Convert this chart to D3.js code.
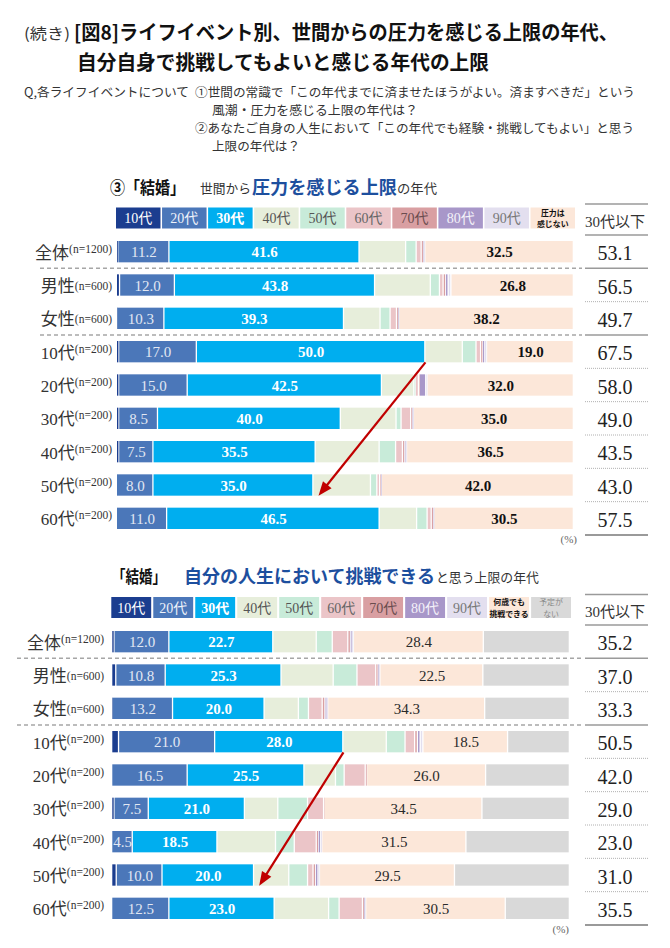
<!DOCTYPE html>
<html><head><meta charset="utf-8">
<script src="https://cdn.jsdelivr.net/npm/d3@7"></script>
<style>body{margin:0;background:#fff}svg{display:block}</style>
</head><body><svg id="c" width="670" height="948"></svg>
<script>
// ---------- DATA ----------
const categories = ["全体","男性","女性","10代","20代","30代","40代","50代","60代"];
const sampleSizes = ["(n=1200)","(n=600)","(n=600)","(n=200)","(n=200)","(n=200)","(n=200)","(n=200)","(n=200)"];

// Chart 1: 世間から圧力を感じる上限の年代 (%)
const press10 = [0.3, 0.7, 0.1, 0.5, 0.5, 0.5, 0.5, 0.0, 0.0];
const press20 = [11.2, 12.0, 10.3, 17.0, 15.0, 8.5, 7.5, 8.0, 11.0];
const press30 = [41.6, 43.8, 39.3, 50.0, 42.5, 40.0, 35.5, 35.0, 46.5];
const press40 = [10.2, 12.2, 8.0, 8.2, 7.1, 12.2, 14.0, 12.6, 8.2];
const press50 = [2.3, 2.0, 2.2, 3.0, 0.3, 1.1, 3.6, 1.4, 2.3];
const press60 = [1.1, 0.8, 1.4, 1.0, 0.7, 2.1, 1.5, 0.6, 0.9];
const press70 = [0.4, 0.5, 0.3, 0.4, 0.2, 0.3, 0.4, 0.2, 0.4];
const press80 = [0.2, 0.6, 0.1, 0.4, 1.4, 0.1, 0.2, 0.1, 0.1];
const press90 = [0.2, 0.6, 0.1, 0.5, 0.3, 0.2, 0.3, 0.1, 0.1];
const pressNone = [32.5, 26.8, 38.2, 19.0, 32.0, 35.0, 36.5, 42.0, 30.5];
const pressUnder30 = [53.1, 56.5, 49.7, 67.5, 58.0, 49.0, 43.5, 43.0, 57.5];
const pressLegend = ["10代","20代","30代","40代","50代","60代","70代","80代","90代","圧力は|感じない"];

// Chart 2: 自分の人生において挑戦できると思う上限の年代 (%)
const chal10 = [0.5, 0.9, 0.1, 1.5, 0.0, 0.5, 0.0, 1.0, 0.0];
const chal20 = [12.0, 10.8, 13.2, 21.0, 16.5, 7.5, 4.5, 10.0, 12.5];
const chal30 = [22.7, 25.3, 20.0, 28.0, 25.5, 21.0, 18.5, 20.0, 23.0];
const chal40 = [9.5, 11.4, 7.5, 9.5, 6.9, 7.3, 12.8, 7.7, 11.9];
const chal50 = [3.5, 5.2, 2.2, 4.1, 1.9, 6.5, 4.1, 4.1, 2.3];
const chal60 = [3.4, 4.1, 3.0, 2.1, 4.6, 3.5, 4.8, 1.2, 5.1];
const chal70 = [0.5, 0.4, 0.6, 0.6, 0.3, 0.1, 0.4, 0.5, 0.3];
const chal80 = [0.3, 0.2, 0.3, 0.6, 0.0, 0.0, 0.5, 0.5, 0.2];
const chal90 = [0.4, 0.3, 0.3, 0.6, 0.0, 0.0, 0.3, 0.4, 0.2];
const chalAny = [28.4, 22.5, 34.3, 18.5, 26.0, 34.5, 31.5, 29.5, 30.5];
const chalNone = [18.8, 18.9, 18.5, 13.5, 18.3, 19.1, 22.6, 25.1, 14.0];
const chalUnder30 = [35.2, 37.0, 33.3, 50.5, 42.0, 29.0, 23.0, 31.0, 35.5];
const chalLegend = ["10代","20代","30代","40代","50代","60代","70代","80代","90代","何歳でも|挑戦できる","予定が|ない"];

const headerLabel = "30代以下";

// ---------- STYLE ----------
const segColors = ["#1b3d8f","#4b77b9","#00aeef","#e7eedb","#c8ebd9","#ebc5c8","#d99fa2","#a897c9","#e3dfef","#fce7d9","#d9d9d9"];
const legendTextColors = ["#ffffff","#eef2fa","#ffffff","#555","#555","#666","#6a4c4e","#f4f2f9","#777","#111","#888"];
const SERIF = '"Liberation Serif","Noto Sans CJK JP",serif';
const CJK = '"Noto Sans CJK JP","Noto Sans",sans-serif';

const svg = d3.select("#c");
svg.append("rect").attr("width",670).attr("height",948).attr("fill","#fff");

// ---------- TITLES ----------
function txt(x,y,s,opt){
  const t = svg.append("text").attr("x",x).attr("y",y).attr("dominant-baseline","central")
    .attr("font-family",opt.family||CJK).attr("font-size",opt.size).attr("fill",opt.fill||"#222")
    .attr("font-weight",opt.weight||400).text(s);
  if(opt.len){t.attr("textLength",opt.len).attr("lengthAdjust","spacingAndGlyphs");}
  if(opt.anchor) t.attr("text-anchor",opt.anchor);
  return t;
}
txt(24,32,"(続き)",{size:15,len:46,fill:"#333"});
txt(74,31,"[図8]ライフイベント別、世間からの圧力を感じる上限の年代、",{size:20,weight:700,len:544,fill:"#111"});
txt(77,61,"自分自身で挑戦してもよいと感じる年代の上限",{size:20,weight:700,len:412,fill:"#111"});
txt(24,91,"Q,各ライフイベントについて",{size:12.5,len:165,fill:"#333"});
txt(195,91,"①世間の常識で「この年代までに済ませたほうがよい。済ますべきだ」という",{size:12.5,len:440,fill:"#333"});
txt(212,109,"風潮・圧力を感じる上限の年代は？",{size:12.5,len:206,fill:"#333"});
txt(195,127.5,"②あなたご自身の人生において「この年代でも経験・挑戦してもよい」と思う",{size:12.5,len:439,fill:"#333"});
txt(212,145.5,"上限の年代は？",{size:12.5,len:88,fill:"#333"});

// section titles
txt(110,186,"③「結婚」",{size:17,weight:700,len:75,fill:"#111"});
txt(200,187,"世間から",{size:13,len:51,fill:"#333"});
txt(252,186,"圧力を感じる上限",{size:18,weight:700,len:145,fill:"#1d4f9e"});
txt(397,187,"の年代",{size:13,len:40,fill:"#333"});

txt(112,575,"「結婚」",{size:17,weight:700,len:54,fill:"#111"});
txt(184,575,"自分の人生において挑戦できる",{size:18,weight:700,len:251,fill:"#1d4f9e"});
txt(436,576,"と思う上限の年代",{size:13,len:103,fill:"#333"});

// ---------- CHART ----------
function drawChart(cfg){
  const g = svg.append("g");
  const series = cfg.series;
  const keys = series.map((_,i)=>"s"+i);
  const rows = categories.map((c,i)=>{const o={cat:c}; series.forEach((s,j)=>o["s"+j]=s[i]); return o;});
  const stacked = d3.stack().keys(keys)(rows);
  const x = d3.scaleLinear().domain([0,100]).range(cfg.xRange);
  const y = d3.scaleBand().domain(categories).range([cfg.yTop, cfg.yTop+300]).paddingInner(0.36).paddingOuter(0.18);
  const bw = y.bandwidth();
  const step = y.step();

  // legend
  const lx = d3.scaleBand().domain(cfg.legend).range([x.range()[0]-1, x.range()[1]+1]).paddingInner(cfg.legendPad);
  const lg = g.append("g");
  cfg.legend.forEach((lab,i)=>{
    lg.append("rect").attr("x",lx(lab)).attr("y",cfg.legendTop).attr("width",lx.bandwidth()).attr("height",21).attr("fill",segColors[i]);
    const cx = lx(lab)+lx.bandwidth()/2, cy = cfg.legendTop+10.5;
    const parts = lab.split("|");
    if(parts.length===1){
      lg.append("text").attr("x",cx).attr("y",cy+0.5).attr("text-anchor","middle").attr("dominant-baseline","central")
        .attr("font-family",SERIF).attr("font-size",14).attr("font-weight",i===2?700:400)
        .attr("fill",legendTextColors[i]).text(lab);
    } else {
      const last = i===cfg.legend.length-1 && cfg.legend.length===11;
      parts.forEach((p,k)=>{
        lg.append("text").attr("x",cx).attr("y",cy-5.8+k*11.6).attr("text-anchor","middle").attr("dominant-baseline","central")
          .attr("font-family",CJK).attr("font-size",7.9).attr("font-weight",last?400:700)
          .attr("fill",legendTextColors[i]).text(p);
      });
    }
  });

  // bars
  stacked.forEach((layer,j)=>{
    g.append("g").selectAll("rect").data(layer.filter(d=>d[1]-d[0]>0)).join("rect")
      .attr("x",d=>x(d[0]))
      .attr("y",d=>y(d.data.cat))
      .attr("height",bw)
      .attr("width",d=>{const w=x(d[1])-x(d[0]); return w>2.5? w-1.3 : Math.max(w*0.6,0.5);})
      .attr("fill",segColors[j]);
  });

  // bar value labels
  const labelLayers = [
    {j:1, fill:"#e2e8f3", weight:400},
    {j:2, fill:"#ffffff", weight:700},
    {j:9, fill:cfg.lastFill, weight:cfg.lastWeight}
  ];
  labelLayers.forEach(L=>{
    g.append("g").selectAll("text").data(stacked[L.j]).join("text")
      .attr("x",d=>(x(d[0])+x(d[1]))/2)
      .attr("y",d=>y(d.data.cat)+bw/2+0.5)
      .attr("text-anchor","middle").attr("dominant-baseline","central")
      .attr("font-family",SERIF).attr("font-size",15).attr("font-weight",L.weight)
      .attr("fill",L.fill)
      .text(d=>d3.format(".1f")(d[1]-d[0]));
  });

  // row labels
  categories.forEach((c,i)=>{
    const t = g.append("text").attr("x",cfg.labelRight).attr("y",y(c)+bw/2+1)
      .attr("text-anchor","end").attr("dominant-baseline","central").attr("fill","#333");
    t.append("tspan").attr("font-family",SERIF).attr("font-size",17).text(c);
    const raised = (i===0 || i>=3);
    t.append("tspan").attr("font-family",SERIF).attr("font-size",11.5).attr("dy",raised?-4:0).text(sampleSizes[i]);
  });

  // dashed group separators
  [1,3].forEach(i=>{
    const yy = cfg.yTop + i*step;
    g.append("line").attr("x1",cfg.dashX0).attr("x2",582).attr("y1",yy).attr("y2",yy)
      .attr("stroke","#a6a6a6").attr("stroke-width",1.5).attr("stroke-dasharray","4,3");
  });

  // right column
  const rc0 = 585, rc1 = 648, rcx = 615;
  const hl = (yy,solid,w)=> g.append("line").attr("x1",rc0).attr("x2",rc1).attr("y1",yy).attr("y2",yy)
      .attr("stroke",solid?"#9a9a9a":"#b0b0b0").attr("stroke-width",w)
      .attr("stroke-dasharray",solid?null:"1,1");
  hl(cfg.headerTop,true,1.5);
  for(let i=0;i<=9;i++){
    const yy = cfg.yTop + i*step;
    const solid = (i===0||i===1||i===3||i===9);
    hl(yy, solid, i===9?2:(solid?1.5:1));
  }
  g.append("text").attr("x",rcx).attr("y",(cfg.headerTop+cfg.yTop)/2+2).attr("text-anchor","middle")
    .attr("dominant-baseline","central").attr("font-family",SERIF).attr("font-size",15).attr("fill","#333").text(headerLabel);
  g.append("g").selectAll("text").data(cfg.under30).join("text")
    .attr("x",rcx).attr("y",(d,i)=>y(categories[i])+bw/2+1.5)
    .attr("text-anchor","middle").attr("dominant-baseline","central")
    .attr("font-family",SERIF).attr("font-size",20).attr("fill","#222")
    .text(d=>d3.format(".1f")(d));

  // (%)
  g.append("text").attr("x",cfg.pctX).attr("y",cfg.yTop+300+4).attr("text-anchor","end")
    .attr("dominant-baseline","central").attr("font-family",SERIF).attr("font-size",11).attr("fill","#666").text("(%)");

  // arrow from 10代 to 50代 (end of 30代 segment)
  const ia = categories.indexOf("10代"), ib = categories.indexOf("50代");
  const x0 = x(stacked[2][ia][1]), y0 = y("10代")+bw;
  const x1 = x(stacked[2][ib][1])+5, y1 = y("50代")+bw;
  const dx = x1-x0, dy = y1-y0, len = Math.hypot(dx,dy), ux = dx/len, uy = dy/len;
  const L = 14, Wd = 11;
  g.append("line").attr("x1",x0).attr("y1",y0).attr("x2",x1-ux*L*0.7).attr("y2",y1-uy*L*0.7)
    .attr("stroke","#c00000").attr("stroke-width",2.2);
  const bx = x1-ux*L, by = y1-uy*L;
  g.append("path").attr("d",`M${x1},${y1}L${bx-uy*Wd/2},${by+ux*Wd/2}L${bx+uy*Wd/2},${by-ux*Wd/2}Z`).attr("fill","#c00000");
}

drawChart({
  series:[press10,press20,press30,press40,press50,press60,press70,press80,press90,pressNone],
  legend:pressLegend, legendPad:0.034,
  xRange:[117,574], yTop:235, legendTop:207.5, headerTop:204,
  under30:pressUnder30, labelRight:112, dashX0:40, pctX:577,
  lastFill:"#111", lastWeight:700
});
drawChart({
  series:[chal10,chal20,chal30,chal40,chal50,chal60,chal70,chal80,chal90,chalAny,chalNone],
  legend:chalLegend, legendPad:0.05,
  xRange:[112.3,570], yTop:625, legendTop:597, headerTop:594.5,
  under30:chalUnder30, labelRight:104, dashX0:17, pctX:569,
  lastFill:"#2a2a2a", lastWeight:400
});
</script>
</body></html>
